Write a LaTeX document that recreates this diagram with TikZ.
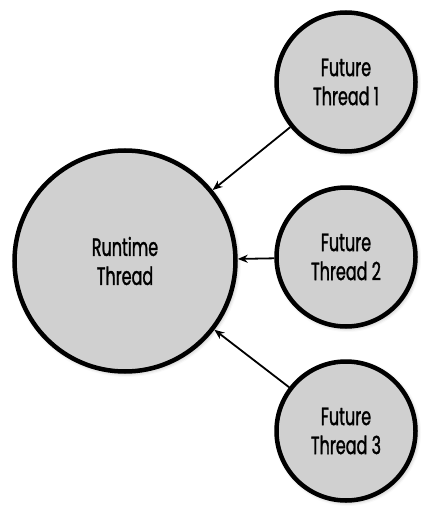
\documentclass[tikz,border=0pt]{standalone}
\usepackage{fontspec}
\setmainfont[FakeStretch=0.64,FakeBold=1.2]{Poppins}
\usetikzlibrary{arrows.meta,shadows.blur}
\definecolor{nodegray}{RGB}{208,208,208}
\tikzset{
  thread/.style={circle, draw=black, line width=4.5pt, fill=nodegray,
    align=center, font=\fontsize{25}{29}\selectfont, inner sep=0pt,
    blur shadow={shadow xshift=1.5pt, shadow yshift=-1.5pt, shadow blur radius=4pt, shadow opacity=35}},
  bigthread/.style={thread, minimum size=221pt},
  smallthread/.style={thread, minimum size=139pt},
  link/.style={line width=1.8pt, -{Stealth[length=10pt,width=8pt]}}
}
\begin{document}
\begin{tikzpicture}[x=1pt,y=-1pt]
\useasboundingbox (0,0) rectangle (422,508);
\node[bigthread] (rt) at (125,261) {Runtime\\Thread};
\node[smallthread] (f1) at (346,82) {Future\\Thread 1};
\node[smallthread] (f2) at (346,257) {Future\\Thread 2};
\node[smallthread] (f3) at (346,431) {Future\\Thread 3};
\draw[link] (f1) -- (rt);
\draw[link] (f2) -- (rt);
\draw[link] (f3) -- (rt);
\end{tikzpicture}
\end{document}
